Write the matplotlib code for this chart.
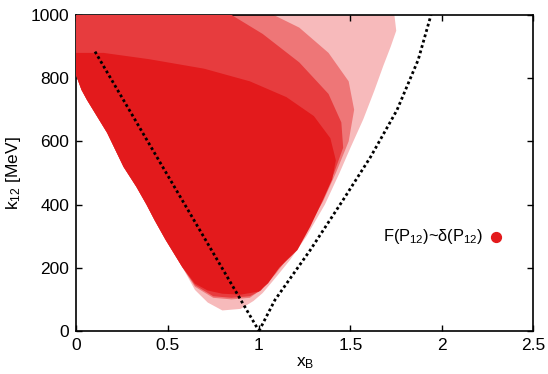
import matplotlib
matplotlib.use('Agg')
import matplotlib.pyplot as plt
import numpy as np

plt.rcParams['font.family'] = ['Liberation Sans', 'DejaVu Sans']
plt.rcParams['mathtext.fontset'] = 'custom'
plt.rcParams['mathtext.rm'] = 'Liberation Sans'
plt.rcParams['mathtext.it'] = 'Liberation Sans:italic'
plt.rcParams['mathtext.default'] = 'regular'

RED = '#e31a1c'

# outline of the event cloud, shaded by how densely it is populated
# (x_B, k12 [MeV]) vertices, sparse outer envelope first
left_x = [0.0, 0.0, 0.03, 0.06, 0.17, 0.26, 0.33, 0.385, 0.43, 0.49, 0.58]
left_k = [1000, 810, 763, 731, 627, 519, 456, 400, 350, 288, 203]

sparse_x = left_x + [0.65, 0.72, 0.80, 0.90, 0.97, 1.02, 1.10, 1.17, 1.26, 1.36,
                     1.44, 1.50, 1.57, 1.63, 1.68, 1.72, 1.75, 1.74]
sparse_k = left_k + [130, 90, 65, 70, 95, 120, 175, 225, 300, 400,
                     500, 580, 670, 760, 840, 900, 950, 1000]

medium_x = left_x + [0.65, 0.75, 0.85, 0.95, 1.01, 1.09, 1.17, 1.26, 1.35,
                     1.42, 1.49, 1.52, 1.49, 1.38, 1.22, 1.08]
medium_k = left_k + [140, 105, 100, 105, 130, 180, 240, 320, 410,
                     500, 600, 700, 790, 880, 960, 1000]

dense_x = left_x + [0.65, 0.75, 0.85, 0.95, 1.01, 1.08, 1.17, 1.26, 1.34,
                    1.41, 1.46, 1.45, 1.38, 1.22, 1.02, 0.85]
dense_k = left_k + [145, 110, 105, 110, 128, 180, 240, 320, 410,
                    500, 580, 660, 750, 850, 940, 1000]

core_x = left_x[1:] + [0.65, 0.72, 0.80, 0.90, 1.00, 1.05, 1.11, 1.21, 1.28, 1.35,
                       1.40, 1.42, 1.39, 1.30, 1.15, 0.95, 0.70, 0.40, 0.15, 0.0]
core_k = left_k[1:] + [150, 128, 118, 115, 125, 151, 200, 256, 330, 415,
                       480, 540, 610, 680, 740, 790, 830, 860, 880, 880]

# kinematic limits (dotted)
left_lim_x = [0.104, 1.0]
left_lim_k = [884, 0]
right_lim_x = [1.0, 1.087, 1.28, 1.46, 1.61, 1.754, 1.87, 1.94]
right_lim_k = [0, 98, 256, 415, 551, 699, 858, 1000]


def tint(frac):
    c = np.array(matplotlib.colors.to_rgb(RED))
    return tuple(1 - frac * (1 - c))


fig = plt.figure(figsize=(5.48, 3.74), dpi=100)
ax = fig.add_axes([0.1387, 0.115, 0.8348, 0.845])

ax.fill(sparse_x, sparse_k, color=tint(0.3), lw=0, zorder=1)
ax.fill(medium_x, medium_k, color=tint(0.6), lw=0, zorder=2)
ax.fill(dense_x, dense_k, color=tint(0.85), lw=0, zorder=3)
ax.fill(core_x, core_k, color=RED, lw=0, zorder=4)

ax.plot(left_lim_x, left_lim_k, color='black', lw=2, ls=(0, (1, 1)), zorder=5)
ax.plot(right_lim_x, right_lim_k, color='black', lw=2, ls=(0, (1, 1)), zorder=5)

# legend entry for the cloud
h = ax.scatter([], [], s=50, color=RED)
ax.legend([h], ['F(P$_{12}$)~δ(P$_{12}$)'], loc='center right',
          bbox_to_anchor=(0.932, 0.298), frameon=False, fontsize=11.8,
          borderpad=0, borderaxespad=0, handlelength=0.8, handletextpad=0.4,
          markerfirst=False)

ax.set_xlim(0, 2.5)
ax.set_ylim(0, 1000)
ax.set_xticks([0, 0.5, 1, 1.5, 2, 2.5])
ax.set_xticklabels(['0', '0.5', '1', '1.5', '2', '2.5'])
ax.set_yticks([0, 200, 400, 600, 800, 1000])
ax.tick_params(direction='in', top=True, right=True, length=4, width=1,
               labelsize=12.5, pad=5)
for s in ax.spines.values():
    s.set_linewidth(1.2)

ax.set_xlabel('x$_{B}$', fontsize=12.5, labelpad=2)
ax.set_ylabel('k$_{12}$ [MeV]', fontsize=12.5, labelpad=5)

fig.savefig('out.png', dpi=100)
